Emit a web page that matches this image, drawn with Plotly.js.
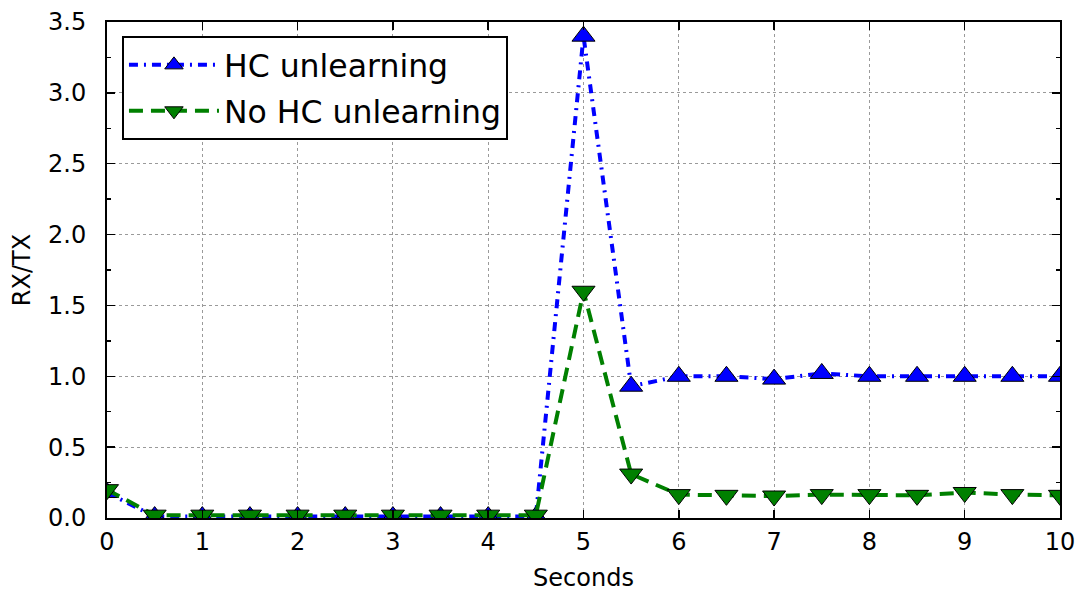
<!DOCTYPE html>
<html>
<head>
<meta charset="utf-8">
<script src="https://cdn.plot.ly/plotly-3.0.1.min.js"></script>
<style>
  html, body { margin: 0; padding: 0; background: #fff; }
  #chart { width: 1081px; height: 592px; }
</style>
</head>
<body>
<div id="chart"></div>
<script>
// Time axis (seconds)
const seconds = [0, 0.5, 1, 1.5, 2, 2.5, 3, 3.5, 4, 4.5, 5, 5.5, 6, 6.5, 7, 7.5, 8, 8.5, 9, 9.5, 10];

// RX/TX ratio with HC unlearning
const hcUnlearning = [0.18, 0.01, 0.01, 0.01, 0.01, 0.01, 0.01, 0.01, 0.01, 0.01,
                      3.40, 0.93, 1.00, 1.00, 0.98, 1.02, 1.00, 1.00, 1.00, 1.00, 1.00];

// RX/TX ratio without HC unlearning
const noHcUnlearning = [0.20, 0.02, 0.02, 0.02, 0.02, 0.02, 0.02, 0.02, 0.02, 0.02,
                        1.60, 0.31, 0.165, 0.16, 0.155, 0.165, 0.165, 0.16, 0.18, 0.165, 0.16];

const seriesNames = ['HC unlearning', 'No HC unlearning'];
const xTitle = 'Seconds';
const yTitle = 'RX/TX';

const FONT = 'DejaVu Sans, Arial, sans-serif';

const traces = [
  {
    x: seconds, y: hcUnlearning, name: seriesNames[0],
    type: 'scatter', mode: 'lines+markers', legendgroup: 'a',
    line: { color: '#0000ff', width: 4, dash: '9px,6px,2px,6px' },
    marker: { symbol: 'triangle-up', size: 20, color: '#0000ff',
              line: { color: '#000', width: 1 } }
  },
  {
    x: seconds, y: noHcUnlearning, name: seriesNames[1],
    type: 'scatter', mode: 'lines+markers', legendgroup: 'b',
    line: { color: '#008000', width: 4, dash: '14px,8px' },
    marker: { symbol: 'triangle-down', size: 20, color: '#008000',
              line: { color: '#000', width: 1 } }
  }
];

const axisCommon = {
  showline: true, linecolor: '#000', linewidth: 2, mirror: 'ticks',
  ticks: 'inside', ticklen: 8, tickwidth: 1.5, tickcolor: '#000',
  showgrid: true, gridcolor: '#9a9a9a', gridwidth: 1, griddash: 'dot',
  zeroline: false, automargin: false,
  tickfont: { family: FONT, size: 24, color: '#000' }
};

const layout = {
  width: 1081, height: 592,
  margin: { l: 107, r: 21, t: 22, b: 74 },
  paper_bgcolor: '#fff', plot_bgcolor: '#fff',
  font: { family: FONT, color: '#000' },
  showlegend: true,
  legend: {
    x: 0.0157, y: 0.972, xanchor: 'left', yanchor: 'top',
    bgcolor: '#fff', bordercolor: '#000', borderwidth: 2,
    font: { family: FONT, size: 31.5, color: '#000' },
    itemwidth: 90, tracegroupgap: 2
  },
  xaxis: Object.assign({}, axisCommon, {
    range: [0, 10], dtick: 1, tick0: 0,
    ticklabelstandoff: 1,
    title: { text: xTitle, font: { family: FONT, size: 24, color: '#000' }, standoff: 14 }
  }),
  yaxis: Object.assign({}, axisCommon, {
    range: [0, 3.5], dtick: 0.5, tick0: 0, tickformat: '.1f',
    ticklabelstandoff: 14,
    minor: { dtick: 0.25, ticks: 'inside', ticklen: 4, tickcolor: '#000', showgrid: false },
    title: { text: yTitle, font: { family: FONT, size: 24, color: '#000' }, standoff: 11 }
  })
};

Plotly.newPlot('chart', traces, layout, { displayModeBar: false, staticPlot: true });
</script>
</body>
</html>
